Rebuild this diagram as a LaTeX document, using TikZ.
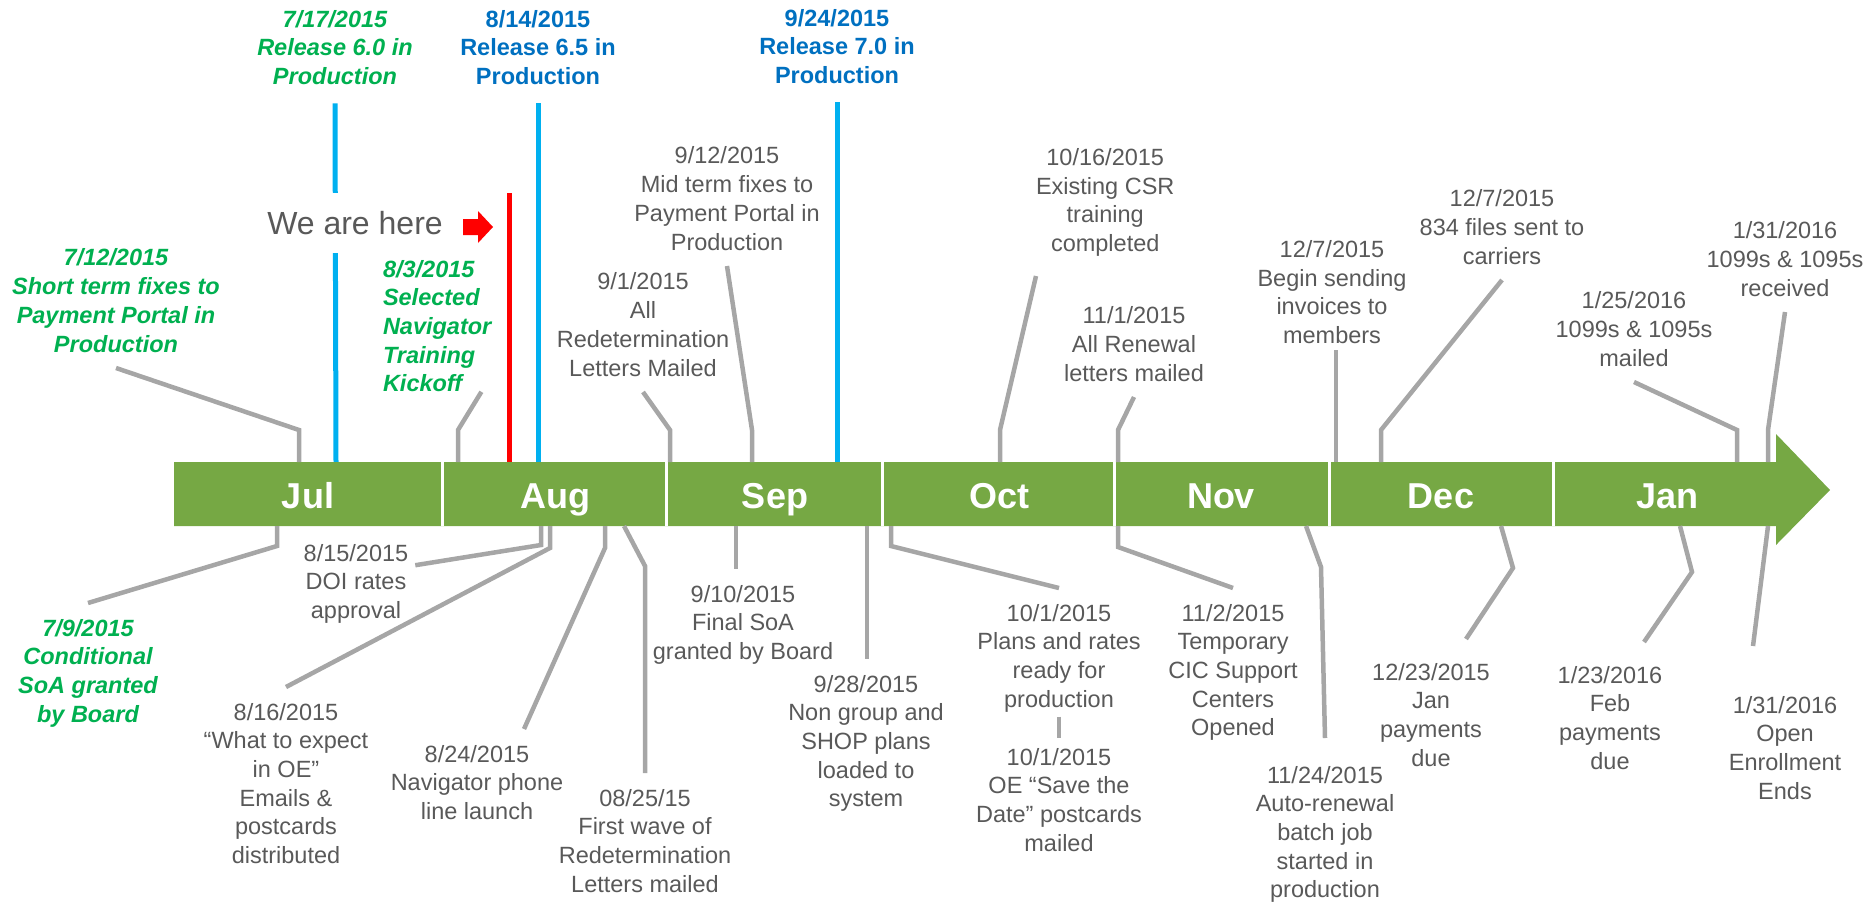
\documentclass[tikz,border=0pt]{standalone}
\usepackage{fontspec}
\setmainfont{Liberation Sans}
\usepackage{xcolor}
\usetikzlibrary{positioning}

\definecolor{barGreen}{HTML}{76A844}
\definecolor{txtGrey}{HTML}{595959}
\definecolor{lineGrey}{HTML}{A6A6A6}
\definecolor{txtGreen}{HTML}{00B050}
\definecolor{txtBlue}{HTML}{0070C0}
\definecolor{lineBlue}{HTML}{00B0F0}

\begin{document}
\begin{tikzpicture}[x = 1pt, y = -1pt,
		call_text/.style = {align = center, inner sep = 0pt, outer xsep = 0pt, outer ysep = 16pt, text depth = 0pt, font = \fontsize{23.5}{28.7}\selectfont},
		grey_text/.style = {call_text, text = txtGrey},
		green_text/.style = {call_text, text = txtGreen, font = \fontsize{23.5}{28.7}\selectfont\bfseries\itshape},
		blue_text/.style = {call_text, text = txtBlue, outer ysep = 0pt, font = \fontsize{23.5}{28.7}\selectfont\bfseries},
		month_node/.style = {text = white, inner sep = 0pt, anchor = base, font = \fontsize{36}{40}\selectfont\bfseries},
		grey_line/.style = {draw = lineGrey, line width = 4.5pt},
		blue_line/.style = {draw = lineBlue, line width = 5pt},
		red_line/.style = {draw = red, line width = 5pt},
		divider/.style = {draw = white, line width = 3pt},
		]
		
		\useasboundingbox (0,0) rectangle (1868,903);
		
		%releases
		\node[green_text, outer ysep = 0pt, anchor = north](t717) at (335,10){7/17/2015\\Release 6.0 in\\Production};
		\node[blue_text, anchor = north](t814) at (538,10){8/14/2015\\Release 6.5 in\\Production};
		\node[blue_text, anchor = north](t924) at (837,9){9/24/2015\\Release 7.0 in\\Production};
		
		\coordinate (m717) at (336,462);
		\coordinate (m814) at (538,462);
		\coordinate (m924) at (837,462);
		\coordinate (here_top) at (509,193);
		\coordinate (here_bar) at (509,462);
		
		\draw[blue_line]([yshift = -19pt]t717.south) -- (m717);
		\draw[blue_line]([yshift = -19pt]t814.south) -- (m814);
		\draw[blue_line]([yshift = -19pt]t924.south) -- (m924);
		\draw[red_line](here_top) -- (here_bar);
		
		%we are here
		\node[fill = white, text = txtGrey, inner xsep = 6pt, minimum height = 60pt, font = \fontsize{32}{36}\selectfont](here) at (355,223){We are here};
		\fill[red] (463,219) -- (478,219) -- (478,211) -- (493,227) -- (478,243) -- (478,235) -- (463,235) -- cycle;
		
		%bar
		\fill[barGreen] (174,462) -- (1776,462) -- (1776,434) -- (1830,490) -- (1776,545) -- (1776,526) -- (174,526) -- cycle;
		\draw[divider] (442,462) -- (442,526);
		\draw[divider] (666,462) -- (666,526);
		\draw[divider] (882,462) -- (882,526);
		\draw[divider] (1114,462) -- (1114,526);
		\draw[divider] (1329,462) -- (1329,526);
		\draw[divider] (1553,462) -- (1553,526);
		
		%months
		\node[month_node](jul) at (308,508){Jul};
		\node[month_node](aug) at (555,508){Aug};
		\node[month_node](sep) at (775,508){Sep};
		\node[month_node](oct) at (999,508){Oct};
		\node[month_node](nov) at (1221,508){Nov};
		\node[month_node](dec) at (1441,508){Dec};
		\node[month_node](jan) at (1667,508){Jan};
		
		%top
		\node[green_text, anchor = south](t712) at (116,368){7/12/2015\\Short term fixes to\\Payment Portal in\\Production};
		\node[green_text, align = left, outer ysep = 0pt, anchor = north west](t83) at (383,260){8/3/2015\\Selected\\Navigator\\Training\\Kickoff};
		\node[grey_text, anchor = south](t91) at (643,392){9/1/2015\\All\\Redetermination\\Letters Mailed};
		\node[grey_text, anchor = south](t912) at (727,266){9/12/2015\\Mid term fixes to\\Payment Portal in\\Production};
		\node[grey_text, outer ysep = 24.5pt, anchor = south west](t1016) at (1036,276){10/16/2015\\Existing CSR\\training\\completed};
		\node[grey_text, anchor = south](t111) at (1134,397){11/1/2015\\All Renewal\\letters mailed};
		\node[grey_text, outer ysep = 6.5pt, anchor = south](t127a) at (1332,350){12/7/2015\\Begin sending\\invoices to\\members};
		\node[grey_text, anchor = south](t127b) at (1502,280){12/7/2015\\834 files sent to\\carriers};
		\node[grey_text, anchor = south](t125) at (1634,382){1/25/2016\\1099s \& 1095s\\mailed};
		\node[grey_text, anchor = south](t131a) at (1785,312){1/31/2016\\1099s \& 1095s\\received};
		
		\coordinate (b712) at (299,462);
		\coordinate (b83) at (458,462);
		\coordinate (b91) at (670,462);
		\coordinate (b912) at (752,462);
		\coordinate (b1016) at (1000,462);
		\coordinate (b111) at (1118,462);
		\coordinate (b127a) at (1336,462);
		\coordinate (b127b) at (1381,462);
		\coordinate (b125) at (1737,462);
		\coordinate (b131a) at (1768,462);
		
		\draw[grey_line](b712) -- ++(0,-32) -- (t712.south);
		\draw[grey_line](b83) -- ++(0,-32) -- ([xshift = -10pt]t83.south east);
		\draw[grey_line](b91) -- ++(0,-32) -- (t91.south);
		\draw[grey_line](b912) -- ++(0,-32) -- (t912.south);
		\draw[grey_line](b1016) -- ++(0,-32) -- (t1016.south west);
		\draw[grey_line](b111) -- ++(0,-32) -- (t111.south);
		\draw[grey_line](b127a) -- (b127a |- t127a.south);
		\draw[grey_line](b127b) -- ++(0,-32) -- (t127b.south);
		\draw[grey_line](b125) -- ++(0,-32) -- (t125.south);
		\draw[grey_line](b131a) -- ++(0,-32) -- (t131a.south);
		
		%bottom
		\node[green_text, anchor = north](t709) at (88,603){7/9/2015\\Conditional\\SoA granted\\by Board};
		\node[grey_text, anchor = north](t815) at (356,528){8/15/2015\\DOI rates\\approval};
		\node[grey_text, anchor = north](t816) at (286,687){8/16/2015\\“What to expect\\in OE”\\Emails \&\\postcards\\distributed};
		\node[grey_text, anchor = north](t824) at (477,729){8/24/2015\\Navigator phone\\line launch};
		\node[grey_text, anchor = north](t825) at (645,773){08/25/15\\First wave of\\Redetermination\\Letters mailed};
		\node[grey_text, anchor = north](t910) at (743,569){9/10/2015\\Final SoA\\granted by Board};
		\node[grey_text, anchor = north](t928) at (866,659){9/28/2015\\Non group and\\SHOP plans\\loaded to\\system};
		\node[grey_text, anchor = north](t1001a) at (1059,588){10/1/2015\\Plans and rates\\ready for\\production};
		\node[grey_text, anchor = north](t1001b) at (1059,732){10/1/2015\\OE “Save the\\Date” postcards\\mailed};
		\node[grey_text, anchor = north](t1102) at (1233,588){11/2/2015\\Temporary\\CIC Support\\Centers\\Opened};
		\node[grey_text, outer ysep = 28pt, anchor = north](t1124) at (1325,738){11/24/2015\\Auto-renewal\\batch job\\started in\\production};
		\node[grey_text, outer ysep = 24pt, anchor = north](t1223) at (1431,639){12/23/2015\\Jan\\payments\\due};
		\node[grey_text, outer ysep = 24pt, anchor = north](t123) at (1610,642){1/23/2016\\Feb\\payments\\due};
		\node[grey_text, outer ysep = 50pt, anchor = north](t131b) at (1785,646){1/31/2016\\Open\\Enrollment\\Ends};
		
		\coordinate (b709) at (277,526);
		\coordinate (b815) at (541,526);
		\coordinate (b816) at (550,526);
		\coordinate (b824) at (605,526);
		\coordinate (b825) at (624,526);
		\coordinate (b910) at (736,526);
		\coordinate (b928) at (867,526);
		\coordinate (b1001) at (891,526);
		\coordinate (b1102) at (1118,526);
		\coordinate (b1124) at (1306,526);
		\coordinate (b1223) at (1501,526);
		\coordinate (b123) at (1680,526);
		\coordinate (b131b) at (1768,526);
		
		\draw[grey_line](b709) -- ++(0,20) -- (t709.north);
		\draw[grey_line](b815) -- ++(0,19) -- ([xshift = 7pt, yshift = 16pt]t815.east);
		\draw[grey_line](b816) -- ++(0,22) -- (t816.north);
		\draw[grey_line](b824) -- ++(0,22) -- ([xshift = 47pt]t824.north);
		\draw[grey_line](b825) -- ++(21,40) -- (t825.north);
		\draw[grey_line](b910) -- (b910 |- t910.north);
		\draw[grey_line](b928) -- (b928 |- t928.north);
		\draw[grey_line](b1001) -- ++(0,20) -- (t1001a.north);
		\draw[grey_line]([yshift = 6.5pt]t1001a.south) -- ([yshift = -6pt]t1001b.north);
		\draw[grey_line](b1102) -- ++(0,21) -- (t1102.north);
		\draw[grey_line](b1124) -- ++(15,41) -- (t1124.north);
		\draw[grey_line](b1223) -- ++(12,42) -- ([xshift = 35pt]t1223.north);
		\draw[grey_line](b123) -- ++(12,46) -- ([xshift = 34pt]t123.north);
		\draw[grey_line](b131b) -- ([xshift = -32pt]t131b.north);

\end{tikzpicture}
\end{document}
